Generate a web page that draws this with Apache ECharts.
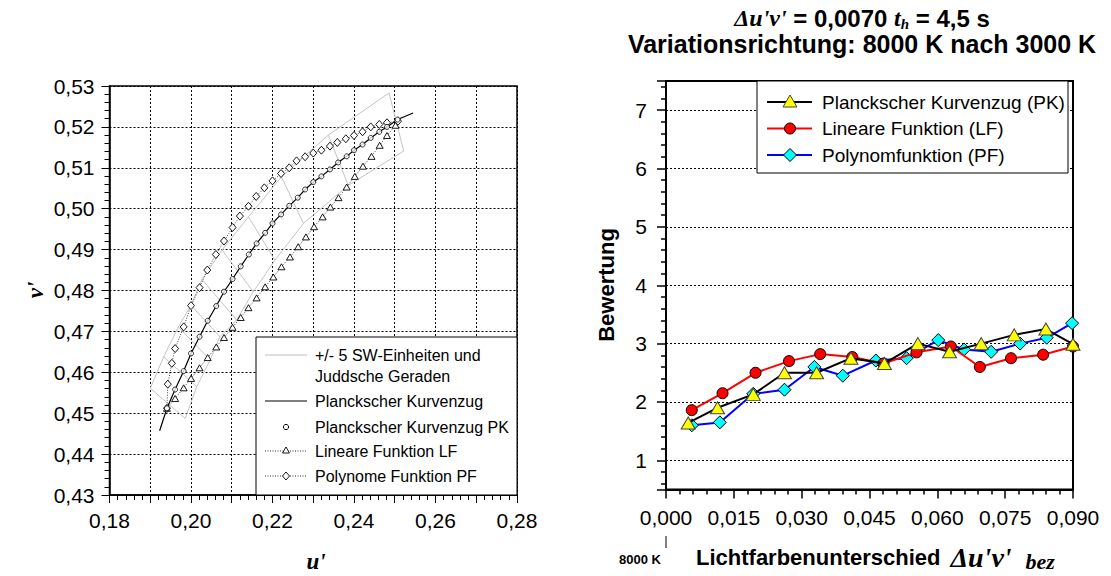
<!DOCTYPE html>
<html><head><meta charset="utf-8">
<script src="https://cdn.jsdelivr.net/npm/echarts@6/dist/echarts.min.js"></script>
<style>html,body{margin:0;padding:0;background:#fff}#c{width:1111px;height:576px}</style>
</head><body><div id="c"></div>
<script>
// ---------- Left chart (u', v' diagram) ----------
const planckLineU = [0.1923, 0.1941, 0.1961, 0.1982, 0.2000, 0.2021, 0.2041, 0.2062, 0.2081, 0.2102, 0.2122, 0.2142, 0.2161, 0.2182, 0.2200, 0.2221, 0.2241, 0.2262, 0.2280, 0.2300, 0.2320, 0.2341, 0.2361, 0.2382, 0.2400, 0.2421, 0.2441, 0.2462, 0.2481, 0.2507, 0.2545];
const planckLineV = [0.4457, 0.4512, 0.4558, 0.4603, 0.4646, 0.4687, 0.4726, 0.4762, 0.4797, 0.4828, 0.4859, 0.4888, 0.4915, 0.4941, 0.4964, 0.4986, 0.5007, 0.5027, 0.5047, 0.5065, 0.5079, 0.5096, 0.5113, 0.5128, 0.5143, 0.5157, 0.5173, 0.5188, 0.5200, 0.5218, 0.5234];

const pkU = [0.1941, 0.1961, 0.1982, 0.2000, 0.2021, 0.2041, 0.2062, 0.2081, 0.2102, 0.2122, 0.2142, 0.2161, 0.2182, 0.2200, 0.2221, 0.2241, 0.2262, 0.2280, 0.2300, 0.2320, 0.2341, 0.2361, 0.2382, 0.2400, 0.2421, 0.2441, 0.2462, 0.2481, 0.2507];
const pkV = [0.4512, 0.4558, 0.4603, 0.4646, 0.4687, 0.4726, 0.4762, 0.4797, 0.4828, 0.4859, 0.4888, 0.4915, 0.4941, 0.4964, 0.4986, 0.5007, 0.5027, 0.5047, 0.5065, 0.5079, 0.5096, 0.5113, 0.5128, 0.5143, 0.5157, 0.5173, 0.5188, 0.5200, 0.5218];

const lfU = [0.1941, 0.1961, 0.1982, 0.2000, 0.2021, 0.2041, 0.2062, 0.2081, 0.2102, 0.2122, 0.2141, 0.2161, 0.2182, 0.2202, 0.2222, 0.2243, 0.2263, 0.2282, 0.2302, 0.2323, 0.2342, 0.2362, 0.2382, 0.2402, 0.2422, 0.2443, 0.2463, 0.2481, 0.2502];
const lfV = [0.4512, 0.4536, 0.4562, 0.4585, 0.4611, 0.4636, 0.4662, 0.4685, 0.4710, 0.4734, 0.4758, 0.4782, 0.4809, 0.4833, 0.4858, 0.4882, 0.4907, 0.4931, 0.4956, 0.4980, 0.5004, 0.5027, 0.5053, 0.5079, 0.5104, 0.5128, 0.5155, 0.5179, 0.5204];

const pfU = [0.1941, 0.1943, 0.1953, 0.1961, 0.1982, 0.2000, 0.2021, 0.2040, 0.2061, 0.2081, 0.2102, 0.2120, 0.2141, 0.2160, 0.2180, 0.2200, 0.2221, 0.2241, 0.2259, 0.2280, 0.2300, 0.2320, 0.2341, 0.2359, 0.2380, 0.2400, 0.2421, 0.2441, 0.2462, 0.2481, 0.2508];
const pfV = [0.4512, 0.4571, 0.4622, 0.4658, 0.4711, 0.4763, 0.4807, 0.4850, 0.4888, 0.4921, 0.4954, 0.4982, 0.5006, 0.5030, 0.5051, 0.5068, 0.5086, 0.5100, 0.5117, 0.5127, 0.5136, 0.5143, 0.5153, 0.5162, 0.5171, 0.5179, 0.5188, 0.5200, 0.5206, 0.5210, 0.5214];

// Judd lines (+/- 5 SW units): upper-left and lower-right end points
const juddUpperU = [0.1900, 0.1933, 0.1969, 0.2000, 0.2027, 0.2076, 0.2141, 0.2222, 0.2337, 0.2486];
const juddUpperV = [0.4561, 0.4638, 0.4711, 0.4764, 0.4827, 0.4899, 0.4980, 0.5078, 0.5180, 0.5283];
const juddLowerU = [0.1986, 0.2014, 0.2047, 0.2071, 0.2112, 0.2153, 0.2206, 0.2276, 0.2386, 0.2522];
const juddLowerV = [0.4487, 0.4565, 0.4630, 0.4687, 0.4728, 0.4797, 0.4874, 0.4964, 0.5057, 0.5141];

// ---------- Right chart (Bewertung) ----------
const pkX = [0.0049, 0.0114, 0.0193, 0.0262, 0.0333, 0.0409, 0.0483, 0.0557, 0.0627, 0.0697, 0.0770, 0.0840, 0.0900];
const pkY = [1.64, 1.90, 2.13, 2.50, 2.50, 2.75, 2.66, 3.00, 2.86, 3.00, 3.15, 3.25, 2.99];
const lfX = [0.0057, 0.0125, 0.0198, 0.0272, 0.0341, 0.0412, 0.0481, 0.0554, 0.0630, 0.0694, 0.0763, 0.0834, 0.0900];
const lfY = [1.86, 2.15, 2.50, 2.70, 2.82, 2.77, 2.66, 2.85, 2.95, 2.60, 2.75, 2.81, 2.95];
const pfX = [0.0057, 0.0119, 0.0193, 0.0262, 0.0328, 0.0391, 0.0464, 0.0532, 0.0602, 0.0659, 0.0719, 0.0783, 0.0842, 0.0898];
const pfY = [1.60, 1.65, 2.14, 2.21, 2.60, 2.45, 2.71, 2.75, 3.06, 2.90, 2.86, 3.00, 3.10, 3.35];

const legendLeft = ['+/- 5 SW-Einheiten und', 'Juddsche Geraden', 'Planckscher Kurvenzug', 'Planckscher Kurvenzug PK', 'Lineare Funktion LF', 'Polynome Funktion PF'];
const legendRight = ['Planckscher Kurvenzug (PK)', 'Lineare Funktion (LF)', 'Polynomfunktion (PF)'];

const SANS = '"Liberation Sans", Arial, sans-serif';
const SERIF = '"Liberation Serif", "Times New Roman", serif';
const zip = (a, b) => a.map((v, i) => [v, b[i]]);
const comma = (v, d) => v.toFixed(d).replace('.', ',');

const chart = echarts.init(document.getElementById('c'), null, {renderer: 'svg'});

const GL = {left: 109.5, top: 86, width: 407.5, height: 409};
const GR = {left: 666, top: 81, width: 407, height: 408.5};

const bandLines = [];
for (let i = 0; i < juddUpperU.length; i++) {
  bandLines.push({coords: [[juddUpperU[i], juddUpperV[i]], [juddLowerU[i], juddLowerV[i]]]});
}
bandLines.push({coords: zip(juddUpperU, juddUpperV)});
bandLines.push({coords: zip(juddLowerU, juddLowerV)});

const dotted = {type: [2, 2], color: '#000', width: 1};

function tri(cx, cy, w, h) { return [[cx, cy - h / 2], [cx + w / 2, cy + h / 2], [cx - w / 2, cy + h / 2]]; }
function dia(cx, cy, w, h) { return [[cx, cy - h / 2], [cx + w / 2, cy], [cx, cy + h / 2], [cx - w / 2, cy]]; }

const graphics = [];
// left legend
graphics.push({type: 'rect', shape: {x: 256, y: 337, width: 261, height: 158}, style: {fill: '#fff', stroke: '#000', lineWidth: 1}, z: 100});
const LX = 315, LF = 16;
graphics.push({type: 'line', shape: {x1: 265, y1: 355, x2: 307, y2: 355}, style: {stroke: '#bdbdbd', lineWidth: 1}, z: 101});
graphics.push({type: 'text', x: LX, y: 355, style: {text: legendLeft[0], font: LF + 'px ' + SANS, fill: '#000', verticalAlign: 'middle'}, z: 101});
graphics.push({type: 'text', x: LX, y: 376, style: {text: legendLeft[1], font: LF + 'px ' + SANS, fill: '#000', verticalAlign: 'middle'}, z: 101});
graphics.push({type: 'line', shape: {x1: 265, y1: 401, x2: 307, y2: 401}, style: {stroke: '#000', lineWidth: 1.2}, z: 101});
graphics.push({type: 'text', x: LX, y: 401, style: {text: legendLeft[2], font: LF + 'px ' + SANS, fill: '#000', verticalAlign: 'middle'}, z: 101});
graphics.push({type: 'circle', shape: {cx: 286, cy: 427, r: 2.6}, style: {fill: '#fff', stroke: '#000', lineWidth: 1}, z: 101});
graphics.push({type: 'text', x: LX, y: 427, style: {text: legendLeft[3], font: LF + 'px ' + SANS, fill: '#000', verticalAlign: 'middle'}, z: 101});
graphics.push({type: 'line', shape: {x1: 265, y1: 451, x2: 307, y2: 451}, style: {stroke: '#333', lineWidth: 1, lineDash: [1, 1.5]}, z: 101});
graphics.push({type: 'polygon', shape: {points: tri(286, 450, 7, 6)}, style: {fill: '#fff', stroke: '#000', lineWidth: 0.9}, z: 102});
graphics.push({type: 'text', x: LX, y: 451, style: {text: legendLeft[4], font: LF + 'px ' + SANS, fill: '#000', verticalAlign: 'middle'}, z: 101});
graphics.push({type: 'line', shape: {x1: 265, y1: 476, x2: 307, y2: 476}, style: {stroke: '#333', lineWidth: 1, lineDash: [1, 1.5]}, z: 101});
graphics.push({type: 'polygon', shape: {points: dia(286, 476, 7, 8)}, style: {fill: '#fff', stroke: '#000', lineWidth: 0.9}, z: 102});
graphics.push({type: 'text', x: LX, y: 476, style: {text: legendLeft[5], font: LF + 'px ' + SANS, fill: '#000', verticalAlign: 'middle'}, z: 101});

// left axis names
graphics.push({type: 'text', x: 316, y: 561, style: {text: "u'", font: 'italic bold 23px ' + SERIF, fill: '#000', align: 'center', verticalAlign: 'middle'}});
graphics.push({type: 'text', x: 35, y: 290, rotation: Math.PI / 2, style: {text: "v'", font: 'italic bold 23px ' + SERIF, fill: '#000', align: 'center', verticalAlign: 'middle'}});

// right legend
graphics.push({type: 'rect', shape: {x: 757, y: 81, width: 311, height: 92}, style: {fill: '#fff', stroke: '#000', lineWidth: 1}, z: 100});
const RX = 822, RF = 19;
const rows = [102, 128.5, 155];
graphics.push({type: 'line', shape: {x1: 767, y1: rows[0], x2: 812, y2: rows[0]}, style: {stroke: '#000', lineWidth: 2}, z: 101});
graphics.push({type: 'polygon', shape: {points: tri(790, rows[0] - 1, 14, 12)}, style: {fill: '#ffff00', stroke: '#444', lineWidth: 1}, z: 102});
graphics.push({type: 'line', shape: {x1: 767, y1: rows[1], x2: 812, y2: rows[1]}, style: {stroke: '#ff0000', lineWidth: 2}, z: 101});
graphics.push({type: 'circle', shape: {cx: 790, cy: rows[1], r: 5.5}, style: {fill: '#ff0000', stroke: '#000', lineWidth: 1}, z: 102});
graphics.push({type: 'line', shape: {x1: 767, y1: rows[2], x2: 812, y2: rows[2]}, style: {stroke: '#0000ff', lineWidth: 2}, z: 101});
graphics.push({type: 'polygon', shape: {points: dia(790, rows[2], 13, 13)}, style: {fill: '#00ffff', stroke: '#000', lineWidth: 1}, z: 102});
legendRight.forEach((t, i) => {
  graphics.push({type: 'text', x: RX, y: rows[i], style: {text: t, font: RF + 'px ' + SANS, fill: '#000', verticalAlign: 'middle'}, z: 101});
});

// right title (two lines)
graphics.push({type: 'text', x: 862, y: 18, style: {
  text: "{g|Δu'v'}{n| = 0,0070 }{g|t}{s|h}{n| = 4,5 s}",
  align: 'center', verticalAlign: 'middle',
  rich: {
    g: {fontFamily: SERIF, fontStyle: 'italic', fontWeight: 'bold', fontSize: 24, lineHeight: 27, fill: '#000'},
    n: {fontFamily: SANS, fontWeight: 'bold', fontSize: 24, lineHeight: 27, fill: '#000'},
    s: {fontFamily: SERIF, fontStyle: 'italic', fontWeight: 'bold', fontSize: 15, lineHeight: 13, verticalAlign: 'bottom', fill: '#000'}
  }}});
graphics.push({type: 'text', x: 862, y: 44, style: {text: 'Variationsrichtung: 8000 K nach 3000 K', font: 'bold 25px ' + SANS, fill: '#000', align: 'center', verticalAlign: 'middle', lineHeight: 24}});

// right axis names
graphics.push({type: 'text', x: 606, y: 285, rotation: Math.PI / 2, style: {text: 'Bewertung', font: 'bold 22px ' + SANS, fill: '#000', align: 'center', verticalAlign: 'middle'}});
graphics.push({type: 'text', x: 696, y: 557, style: {
  text: "{a|Lichtfarbenunterschied}{g|Δu'v'}{s|bez}",
  verticalAlign: 'middle',
  rich: {
    a: {fontFamily: SANS, fontWeight: 'bold', fontSize: 22, lineHeight: 30, padding: [0, 10, 0, 0], fill: '#000'},
    g: {fontFamily: SERIF, fontStyle: 'italic', fontWeight: 'bold', fontSize: 28, lineHeight: 30, padding: [0, 14, 0, 0], fill: '#000'},
    s: {fontFamily: SERIF, fontStyle: 'italic', fontWeight: 'bold', fontSize: 22, lineHeight: 20, verticalAlign: 'bottom', fill: '#000'}
  }}});
graphics.push({type: 'line', shape: {x1: 666, y1: 536, x2: 666, y2: 548}, style: {stroke: '#000', lineWidth: 1}});
graphics.push({type: 'text', x: 640, y: 559, style: {text: '8000 K', font: 'bold 13px ' + SANS, fill: '#000', align: 'center', verticalAlign: 'middle'}});

const axLine = {show: true, lineStyle: {color: '#000', width: 1.5}};

const option = {
  animation: false,
  backgroundColor: '#fff',
  grid: [
    Object.assign({show: true, borderColor: '#000', borderWidth: 1.5, backgroundColor: 'transparent'}, GL),
    Object.assign({show: true, borderColor: '#000', borderWidth: 2, backgroundColor: 'transparent'}, GR)
  ],
  xAxis: [
    {type: 'value', gridIndex: 0, min: 0.18, max: 0.28, interval: 0.01,
     axisLine: axLine, axisTick: {show: true, inside: false, length: 8, lineStyle: {color: '#000'}},
     minorTick: {show: true, splitNumber: 5, length: 5, lineStyle: {color: '#000'}},
     splitLine: {show: true, lineStyle: dotted},
     axisLabel: {margin: 15, fontSize: 21, fontFamily: SANS, color: '#000',
       formatter: v => { const k = Math.round(v * 100); return k % 2 === 0 ? comma(k / 100, 2) : ''; }}},
    {type: 'value', gridIndex: 1, min: 0, max: 0.09, interval: 0.015,
     axisLine: {show: true, lineStyle: {color: '#000', width: 2}}, axisTick: {show: true, inside: false, length: 9, lineStyle: {color: '#000', width: 1.5}},
     minorTick: {show: true, splitNumber: 5, length: 5, lineStyle: {color: '#000', width: 1.5}},
     splitLine: {show: false},
     axisLabel: {margin: 17, fontSize: 21, fontFamily: SANS, color: '#000', formatter: v => comma(v, 3)}}
  ],
  yAxis: [
    {type: 'value', gridIndex: 0, min: 0.43, max: 0.53, interval: 0.01,
     axisLine: axLine, axisTick: {show: true, inside: false, length: 8, lineStyle: {color: '#000'}},
     minorTick: {show: true, splitNumber: 5, length: 5, lineStyle: {color: '#000'}},
     splitLine: {show: true, lineStyle: dotted},
     axisLabel: {margin: 15, fontSize: 21, fontFamily: SANS, color: '#000', formatter: v => comma(v, 2)}},
    {type: 'value', gridIndex: 1, min: 0.5, max: 7.5, splitNumber: 7,
     axisLine: {show: true, lineStyle: {color: '#000', width: 2}}, axisTick: {show: true, inside: false, length: 9, lineStyle: {color: '#000', width: 1.5}},
     minorTick: {show: true, splitNumber: 5, length: 5, lineStyle: {color: '#000', width: 1.5}},
     splitLine: {show: true, lineStyle: dotted},
     axisLabel: {margin: 19, fontSize: 21, fontFamily: SANS, color: '#000', showMinLabel: false, showMaxLabel: false,
       formatter: v => (Math.abs(v - Math.round(v)) < 1e-6 ? String(Math.round(v)) : '')}}
  ],
  series: [
    {type: 'lines', coordinateSystem: 'cartesian2d', xAxisIndex: 0, yAxisIndex: 0, polyline: true, silent: true,
     data: bandLines, lineStyle: {color: '#c4c4c4', width: 1, opacity: 1}, z: 2},
    {type: 'line', xAxisIndex: 0, yAxisIndex: 0, data: zip(planckLineU, planckLineV), showSymbol: false, symbol: 'none',
     lineStyle: {color: '#000', width: 1.2}, z: 3, silent: true},
    {type: 'line', xAxisIndex: 0, yAxisIndex: 0, data: zip(lfU, lfV), symbol: 'triangle', symbolSize: [7, 6], showAllSymbol: true,
     lineStyle: {color: '#333', width: 0.9, type: [1, 1.5]}, itemStyle: {color: '#fff', borderColor: '#000', borderWidth: 0.9}, z: 4, silent: true},
    {type: 'line', xAxisIndex: 0, yAxisIndex: 0, data: zip(pfU, pfV), symbol: 'diamond', symbolSize: [7, 8], showAllSymbol: true,
     lineStyle: {color: '#333', width: 0.9, type: [1, 1.5]}, itemStyle: {color: '#fff', borderColor: '#000', borderWidth: 0.9}, z: 4, silent: true},
    {type: 'scatter', xAxisIndex: 0, yAxisIndex: 0, data: zip(pkU, pkV), symbol: 'circle', symbolSize: 5,
     itemStyle: {color: '#fff', borderColor: '#000', borderWidth: 1}, z: 5, silent: true},

    {type: 'line', xAxisIndex: 1, yAxisIndex: 1, data: zip(pfX, pfY), symbol: 'diamond', symbolSize: [13, 13], showAllSymbol: true,
     lineStyle: {color: '#0000ff', width: 2}, itemStyle: {color: '#00ffff', borderColor: '#000', borderWidth: 1}, z: 3, silent: true},
    {type: 'line', xAxisIndex: 1, yAxisIndex: 1, data: zip(lfX, lfY), symbol: 'circle', symbolSize: 11, showAllSymbol: true,
     lineStyle: {color: '#ff0000', width: 2}, itemStyle: {color: '#ff0000', borderColor: '#000', borderWidth: 1}, z: 4, silent: true},
    {type: 'line', xAxisIndex: 1, yAxisIndex: 1, data: zip(pkX, pkY), symbol: 'triangle', symbolSize: [14, 12], showAllSymbol: true,
     lineStyle: {color: '#000', width: 2}, itemStyle: {color: '#ffff00', borderColor: '#444', borderWidth: 1}, z: 5, silent: true}
  ],
  graphic: graphics
};
chart.setOption(option);
</script>
</body></html>
